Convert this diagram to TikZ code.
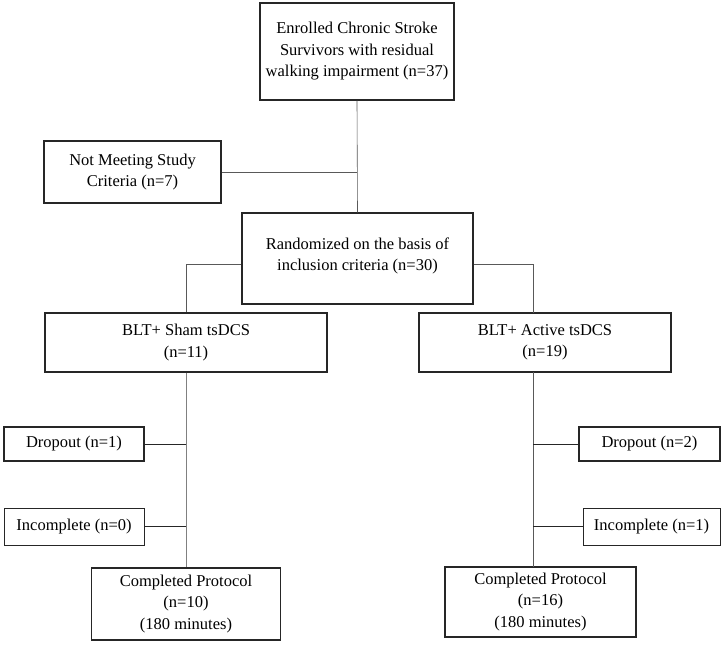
\documentclass[tikz,border=0pt]{standalone}
\usepackage{fontspec}
\setmainfont{Liberation Serif}
\begin{document}
\begin{tikzpicture}[x=1pt,y=-1pt,
  box/.style={draw=black!85,line width=1.1pt,rectangle,align=center,inner sep=0pt,
    font=\fontsize{16.5}{21.5}\selectfont},
  conn/.style={draw=black!65,line width=0.6pt},
  stub/.style={draw=black!85,line width=0.9pt}]
\useasboundingbox (0,0) rectangle (724,646);
\node[box,minimum width=194pt,minimum height=97pt] (top) at (357,51.5)
  {Enrolled Chronic Stroke\\Survivors with residual\\walking impairment (n=37)};
\node[box,minimum width=177pt,minimum height=62pt] (nm) at (132.5,172)
  {Not Meeting Study\\Criteria (n=7)};
\node[box,minimum width=231pt,minimum height=91pt] (ran) at (357.5,258.5) {};
\node[align=center,inner sep=0pt,font=\fontsize{16.5}{21.5}\selectfont] (rantxt) at (357.5,256)
  {Randomized on the basis of\\inclusion criteria (n=30)};
\node[box,minimum width=282pt,minimum height=59pt] (sham) at (186,342.5)
  {BLT+ Sham tsDCS\\(n=11)};
\node[box,minimum width=252pt,minimum height=59pt] (act) at (545,342.5)
  {BLT+ Active tsDCS\\(n=19)};
\node[box,minimum width=140pt,minimum height=34pt] (dl) at (74,444) {Dropout (n=1)};
\node[box,minimum width=140pt,minimum height=37pt,line width=0.6pt] (il) at (74,526.5) {Incomplete (n=0)};
\node[box,minimum width=141pt,minimum height=34pt] (dr) at (649.5,444) {Dropout (n=2)};
\node[box,minimum width=137pt,minimum height=37pt,line width=0.6pt] (ir) at (651.5,526.5) {Incomplete (n=1)};
\node[box,minimum width=189pt,minimum height=72pt] (cl) at (186,604)
  {Completed Protocol\\(n=10)\\(180 minutes)};
\node[box,minimum width=191pt,minimum height=70pt] (cr) at (540.5,602)
  {Completed Protocol\\(n=16)\\(180 minutes)};
\coordinate (rt) at (533,372);
\coordinate (rb) at (533,567);
\coordinate (ra) at (533,313);
\draw[conn] (top.south) -- (ran.north);
\draw[conn] (nm.east) -- (nm.east -| top.south);
\draw[conn] ([yshift=-6pt]ran.west) -| (sham.north);
\draw[conn] ([yshift=-6pt]ran.east) -| (ra);
\draw[conn,draw=black!50] (sham.south) -- (cl.north);
\draw[conn] (rt) -- (rb);
\draw[stub] (dl.east) -- (dl.east -| sham.south);
\draw[stub] (il.east) -- (il.east -| sham.south);
\draw[stub] (dr.west) -- (dr.west -| rt);
\draw[stub] (ir.west) -- (ir.west -| rt);
\end{tikzpicture}
\end{document}
